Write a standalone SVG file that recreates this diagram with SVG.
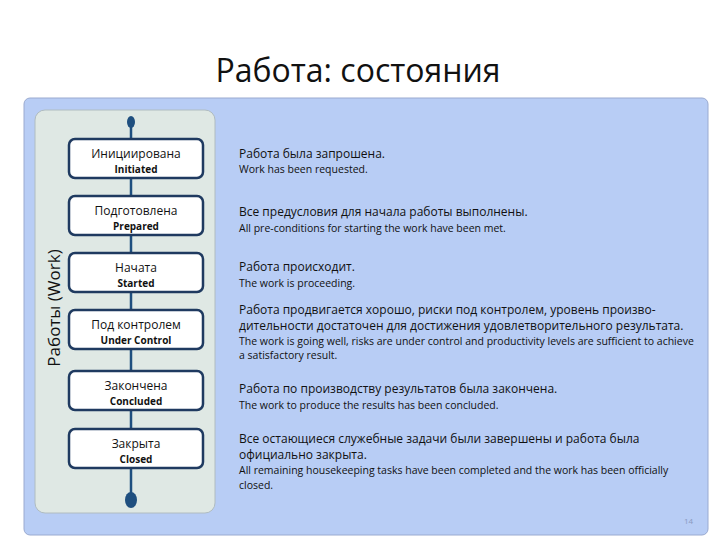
<svg xmlns="http://www.w3.org/2000/svg" width="720" height="540" viewBox="0 0 720 540">
<style>
text{font-family:"Open Sans","Liberation Sans",sans-serif;fill:#111}
.box{fill:#fff;stroke:#1f3a60;stroke-width:2.5}
.ru{font-size:12px;text-anchor:middle}
.en{font-size:10px;text-anchor:middle;font-weight:bold}
.h{font-size:12px}
.d{font-size:10.5px}
.c{stroke:#1f4f7f;stroke-width:2.5;fill:none}
</style>
<rect width="720" height="540" fill="#fff"/>
<text x="358" y="82" font-size="32" text-anchor="middle">Работа: состояния</text>
<rect x="24" y="98" width="684" height="437" rx="6" fill="#b8cdf5" stroke="#9aaad0"/>
<rect x="35" y="110" width="180" height="403" rx="10" fill="#dfe8e4" stroke="#b0bcc0"/>
<text transform="translate(60,308) rotate(-90)" font-size="17" text-anchor="middle">Работы (Work)</text>
<g id="connectors">
<path class="c" d="M131 125V139M131 178V196M131 235V253M131 292V310M131 349V371M131 410V429M131 468V494"/>
<ellipse cx="131" cy="122" rx="4" ry="6" fill="#1f4f7f"/>
<ellipse cx="131" cy="500" rx="6" ry="8" fill="#1f4f7f"/>
</g>
<g id="n1"><rect class="box" x="69" y="139" width="134" height="39" rx="6"/><text class="ru" x="136" y="158">Инициирована</text><text class="en" x="136" y="173">Initiated</text></g>
<g id="n2"><rect class="box" x="69" y="196" width="134" height="39" rx="6"/><text class="ru" x="136" y="215">Подготовлена</text><text class="en" x="136" y="230">Prepared</text></g>
<g id="n3"><rect class="box" x="69" y="253" width="134" height="39" rx="6"/><text class="ru" x="136" y="272">Начата</text><text class="en" x="136" y="287">Started</text></g>
<g id="n4"><rect class="box" x="69" y="310" width="134" height="39" rx="6"/><text class="ru" x="136" y="329">Под контролем</text><text class="en" x="136" y="344">Under Control</text></g>
<g id="n5"><rect class="box" x="69" y="371" width="134" height="39" rx="6"/><text class="ru" x="136" y="390">Закончена</text><text class="en" x="136" y="405">Concluded</text></g>
<g id="n6"><rect class="box" x="69" y="429" width="134" height="39" rx="6"/><text class="ru" x="136" y="448">Закрыта</text><text class="en" x="136" y="463">Closed</text></g>
<g id="desc">
<text class="h" x="239" y="158">Работа была запрошена.</text>
<text class="d" x="239" y="173">Work has been requested.</text>
<text class="h" x="239" y="216">Все предусловия для начала работы выполнены.</text>
<text class="d" x="239" y="232">All pre-conditions for starting the work have been met.</text>
<text class="h" x="239" y="271">Работа происходит.</text>
<text class="d" x="239" y="287">The work is proceeding.</text>
<text class="h" x="239" y="314">Работа продвигается хорошо, риски под контролем, уровень произво-</text>
<text class="h" x="239" y="330">дительности достаточен для достижения удовлетворительного результата.</text>
<text class="d" x="239" y="345">The work is going well, risks are under control and productivity levels are sufficient to achieve</text>
<text class="d" x="239" y="359">a satisfactory result.</text>
<text class="h" x="239" y="393">Работа по производству результатов была закончена.</text>
<text class="d" x="239" y="409">The work to produce the results has been concluded.</text>
<text class="h" x="239" y="443">Все остающиеся служебные задачи были завершены и работа была</text>
<text class="h" x="239" y="459">официально закрыта.</text>
<text class="d" x="239" y="474">All remaining housekeeping tasks have been completed and the work has been officially</text>
<text class="d" x="239" y="489">closed.</text>
</g>
<text x="684" y="524" font-size="8" style="fill:#8a9ac0">14</text>
</svg>
